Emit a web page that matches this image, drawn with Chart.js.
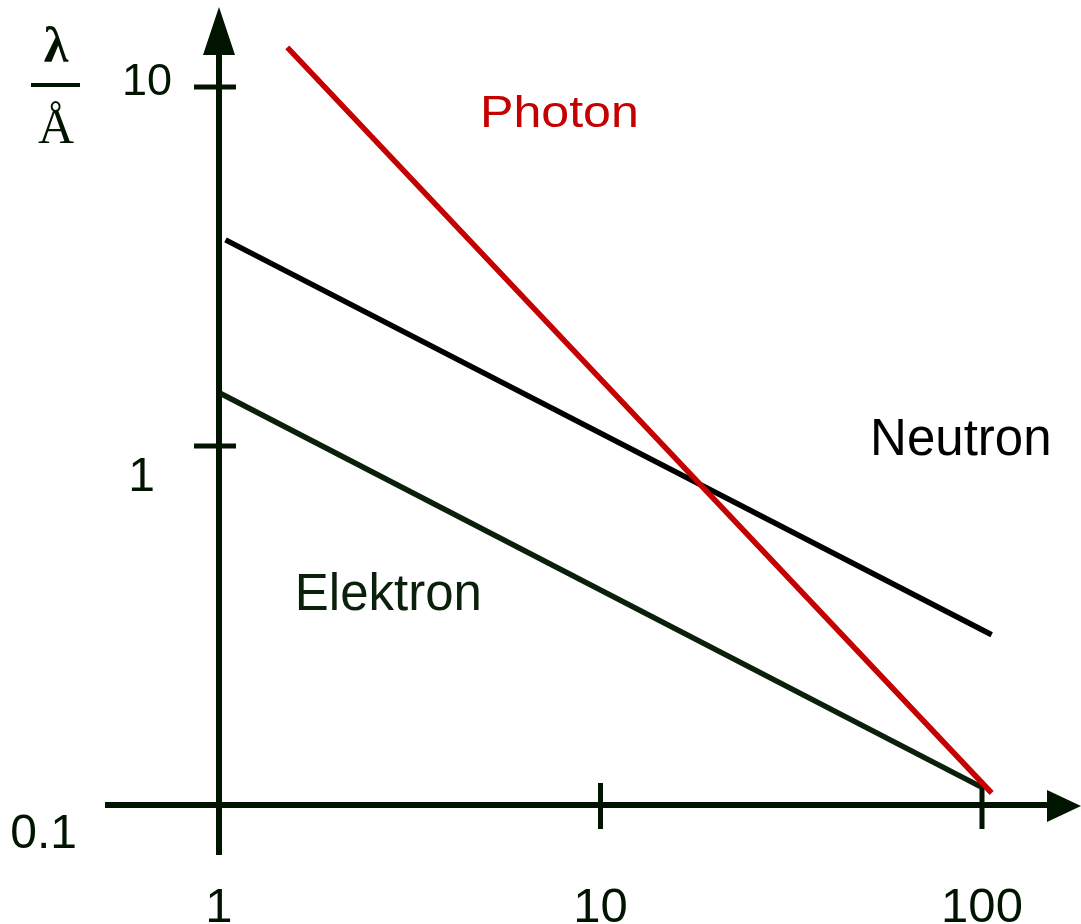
<!DOCTYPE html>
<html>
<head>
<meta charset="utf-8">
<script src="https://cdn.jsdelivr.net/npm/chart.js@4"></script>
<style>
  html, body { margin: 0; padding: 0; background: #fff; }
  #wrap { width: 1081px; height: 924px; position: relative; }
</style>
</head>
<body>
<div id="wrap"><canvas id="myChart"></canvas></div>
<script>
// energy (x) vs wavelength lambda / Angstrom (y), both log
const photonX = [1.51, 106];
const photonY = [12.9, 0.108];
const neutronX = [1.04, 106];
const neutronY = [3.75, 0.298];
const elektronX = [1.01, 100];
const elektronY = [1.40, 0.112];

const xTicks = [1, 10, 100];
const xTickLabels = ['1', '10', '100'];
const yTicks = [10, 1, 0.1];
const yTickLabels = ['10', '1', '0.1'];

const seriesNames = ['Photon', 'Neutron', 'Elektron'];
const nameX = [4.83, 50.9, 1.58];
const nameY = [7.74, 0.944, 0.349];

const axisColor = '#001400';
const colors = ['#c40000', '#000000', '#0b200b'];
const textColors = ['#c40000', '#000000', '#0b200b'];

function toPoints(xs, ys) {
    let pts = [];
    for (let i = 0; i < xs.length; i++) {
        pts.push({ x: xs[i], y: ys[i] });
    }
    return pts;
}

// axes with arrows, ticks and labels drawn by hand
const axesPlugin = {
    id: 'axesPlugin',
    beforeDatasetsDraw(chart) {
        const ctx = chart.ctx;
        const xs = chart.scales.x;
        const ys = chart.scales.y;
        const x0 = xs.getPixelForValue(1);
        const y0 = ys.getPixelForValue(0.1);
        ctx.save();
        ctx.strokeStyle = axisColor;
        ctx.fillStyle = axisColor;
        ctx.lineWidth = 6;
        ctx.lineCap = 'butt';

        // y axis
        ctx.beginPath();
        ctx.moveTo(x0, y0 + 50);
        ctx.lineTo(x0, 50);
        ctx.stroke();
        ctx.beginPath();
        ctx.moveTo(x0, 7);
        ctx.lineTo(x0 - 16, 55);
        ctx.lineTo(x0 + 16, 55);
        ctx.closePath();
        ctx.fill();

        // x axis
        ctx.beginPath();
        ctx.moveTo(105, y0);
        ctx.lineTo(1050, y0);
        ctx.stroke();
        ctx.beginPath();
        ctx.moveTo(1081, y0 + 1);
        ctx.lineTo(1047, y0 - 15);
        ctx.lineTo(1047, y0 + 17);
        ctx.closePath();
        ctx.fill();

        // tick marks
        ctx.lineWidth = 5;
        yTicks.forEach(v => {
            if (v === 0.1) return;
            const py = ys.getPixelForValue(v);
            ctx.beginPath();
            ctx.moveTo(x0 - 25, py);
            ctx.lineTo(x0 + 17, py);
            ctx.stroke();
        });
        xTicks.forEach(v => {
            if (v === 1) return;
            const px = xs.getPixelForValue(v);
            ctx.beginPath();
            ctx.moveTo(px, y0 - 22);
            ctx.lineTo(px, y0 + 24);
            ctx.stroke();
        });
        ctx.restore();
    },
    afterDraw(chart) {
        const ctx = chart.ctx;
        const xs = chart.scales.x;
        const ys = chart.scales.y;
        const x0 = xs.getPixelForValue(1);
        ctx.save();
        ctx.fillStyle = axisColor;

        // y tick labels
        const yLabelDx = [-47, -64, -142];
        const yLabelDy = [8, 45, 43];
        const yLabelSize = [45, 48, 48];
        yTicks.forEach((v, i) => {
            ctx.font = yLabelSize[i] + 'px "Liberation Sans", Arial, sans-serif';
            ctx.textAlign = 'right';
            ctx.textBaseline = 'alphabetic';
            ctx.fillText(yTickLabels[i], x0 + yLabelDx[i], ys.getPixelForValue(v) + yLabelDy[i]);
        });

        // x tick labels
        ctx.font = '49px "Liberation Sans", Arial, sans-serif';
        ctx.textAlign = 'center';
        xTicks.forEach((v, i) => {
            ctx.fillText(xTickLabels[i], xs.getPixelForValue(v), 922);
        });

        // y axis title: lambda over Angstrom
        ctx.font = 'bold 50px "Liberation Serif", "DejaVu Serif", serif';
        ctx.textAlign = 'center';
        ctx.fillText('λ', 56, 62);
        ctx.fillRect(31, 83, 49, 4);
        ctx.font = '50px "Liberation Serif", "DejaVu Serif", serif';
        ctx.fillText('Å', 56, 143);

        // series names
        seriesNames.forEach((name, i) => {
            const px = xs.getPixelForValue(nameX[i]);
            const py = ys.getPixelForValue(nameY[i]);
            ctx.fillStyle = textColors[i];
            ctx.textAlign = 'left';
            ctx.save();
            ctx.translate(px, py);
            if (name === 'Photon') {
                ctx.font = '44px "Liberation Sans", Arial, sans-serif';
                ctx.scale(1.14, 1);
            } else {
                ctx.font = '51px "Liberation Sans", Arial, sans-serif';
            }
            ctx.fillText(name, 0, 0);
            ctx.restore();
        });
        ctx.restore();
    }
};

const ctx = document.getElementById('myChart').getContext('2d');
const waveChart = new Chart(ctx, {
    type: 'scatter',
    data: {
        datasets: [{
            label: seriesNames[0],
            data: toPoints(photonX, photonY),
            borderColor: colors[0]
        }, {
            label: seriesNames[1],
            data: toPoints(neutronX, neutronY),
            borderColor: colors[1]
        }, {
            label: seriesNames[2],
            data: toPoints(elektronX, elektronY),
            borderColor: colors[2]
        }]
    },
    options: {
        responsive: true,
        maintainAspectRatio: false,
        animation: false,
        devicePixelRatio: 1,
        layout: {
            padding: { left: 219, right: 99, top: 87, bottom: 119 }
        },
        datasets: {
            scatter: {
                showLine: true,
                pointRadius: 0,
                borderWidth: 5.5,
                clip: false,
                borderCapStyle: 'butt'
            }
        },
        plugins: {
            legend: { display: false },
            tooltip: { enabled: false }
        },
        scales: {
            x: { type: 'logarithmic', min: 1, max: 100, display: false },
            y: { type: 'logarithmic', min: 0.1, max: 10, display: false }
        }
    },
    plugins: [axesPlugin]
});
</script>
</body>
</html>
